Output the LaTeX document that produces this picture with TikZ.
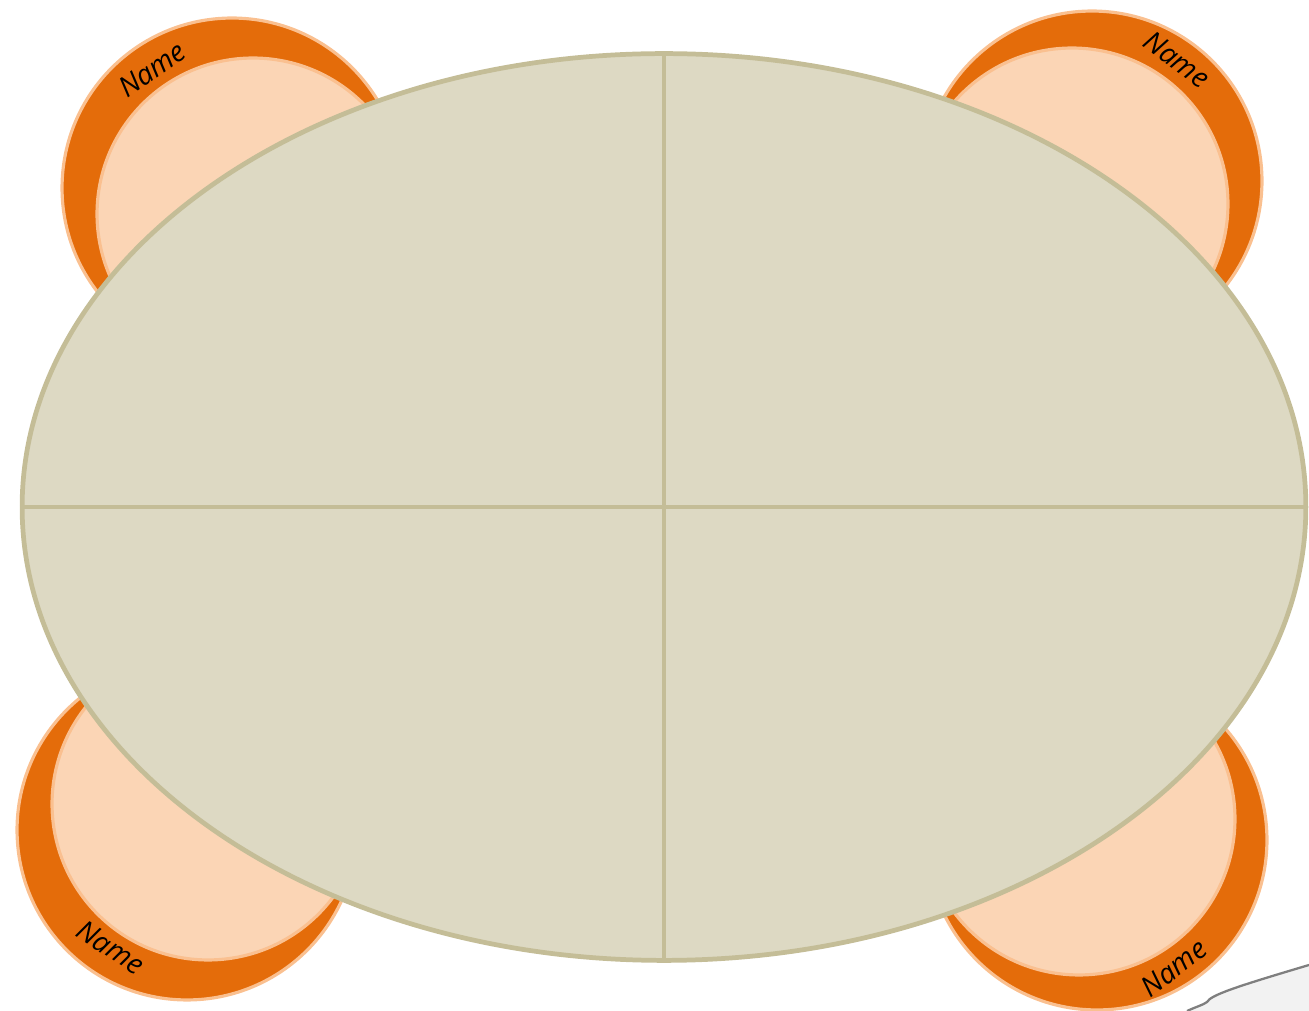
\documentclass[tikz,border=0pt]{standalone}
\usepackage{fontspec}
\usepackage{tikz}
\usetikzlibrary{shapes.geometric,calc}
\newfontfamily\handfont{Open Sans}
\definecolor{rim}{HTML}{E46C0A}
\definecolor{peach}{HTML}{FBD5B5}
\definecolor{peachline}{HTML}{FAC090}
\definecolor{linen}{HTML}{DDD9C3}
\definecolor{linenline}{HTML}{C4BD97}
\definecolor{cloud}{HTML}{F2F2F2}
\definecolor{cloudline}{HTML}{7F7F7F}
\tikzset{plate/.style={circle,draw=peachline,fill=rim,line width=1.8pt,minimum size=6.8cm,inner sep=0pt},
  dish/.style={circle,draw=peachline,fill=peach,line width=1.8pt,minimum size=6.24cm,inner sep=0pt},
  board/.style={ellipse,draw=linenline,fill=linen,line width=2.7pt,minimum width=25.68cm,minimum height=18.14cm,inner sep=0pt},
  split/.style={draw=linenline,line width=2.7pt},
  nametag/.style={font=\handfont\itshape\fontsize{16}{18}\selectfont,inner sep=0pt}}

\begin{document}
\begin{tikzpicture}[x=0.02cm,y=0.02cm]
\useasboundingbox (0,0) rectangle (1309,1011);
\fill[cloud] (1187,0) .. controls (1198,5) and (1203,6) .. (1207,9) .. controls (1211,16) and (1235,24) .. (1309,46) -- (1309,0) -- cycle;
\draw[cloudline,line width=1.3pt] (1187,0) .. controls (1198,5) and (1203,6) .. (1207,9) .. controls (1211,16) and (1235,24) .. (1309,46);
\node[plate] (tlplate) at (232,823) {};
\node[dish] (tldish) at (253,797) {};
\node[nametag,rotate=35] (tlname) at ($(tlplate)+(124:143)$) {Name};
\node[plate] (trplate) at (1092,830) {};
\node[dish] (trdish) at (1072,807) {};
\node[nametag,rotate=-36] (trname) at ($(trplate)+(55:148)$) {Name};
\node[plate] (blplate) at (187,181) {};
\node[dish] (bldish) at (208,207) {};
\node[nametag,rotate=-33] (blname) at ($(blplate)+(237:140)$) {Name};
\node[plate] (brplate) at (1097,171) {};
\node[dish] (brdish) at (1079,192) {};
\node[nametag,rotate=38] (brname) at ($(brplate)+(-59:149)$) {Name};
\node[board] (table) at (664,504) {};
\draw[split] (table.north) -- (table.south);
\draw[split] (table.west) -- (table.east);
\end{tikzpicture}
\end{document}
